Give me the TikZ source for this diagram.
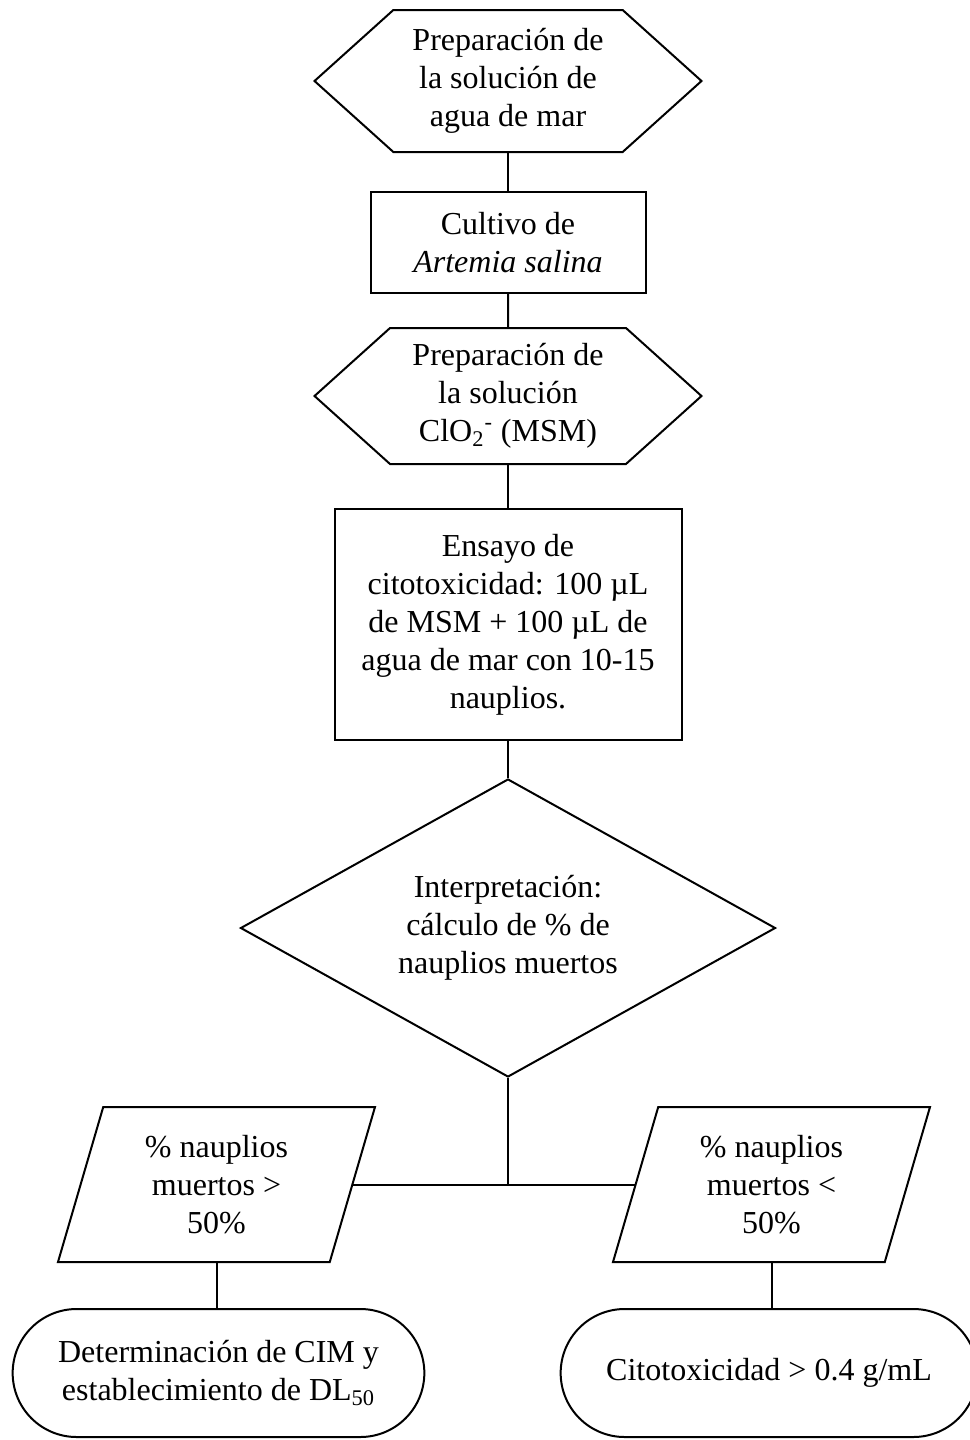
\documentclass[tikz,border=0pt]{standalone}
\usepackage{fontspec}
\setmainfont{Liberation Serif}
\usetikzlibrary{shapes.geometric,shapes.misc,shapes.symbols}

\tikzstyle{base} = [draw, line width=1pt, align=center, font=\fontsize{16}{19}\selectfont]
\tikzstyle{prep} = [base, signal, signal to=west and east, signal pointer angle=84,
     minimum width=193.5pt]
\tikzstyle{block} = [base, rectangle]
\tikzstyle{decision} = [base, diamond, aspect=1.8, minimum width=267.5pt, minimum height=149pt]
\tikzstyle{io} = [base, trapezium, trapezium left angle=68, trapezium right angle=112,
     trapezium stretches body, minimum width=158.5pt, minimum height=77.5pt]
\tikzstyle{terminal} = [base, rounded rectangle, minimum height=64pt]
\tikzstyle{line} = [draw, line width=1pt]

\begin{document}
\begin{tikzpicture}[x=0.5pt,y=-0.5pt]
\useasboundingbox (0,0) rectangle (969,1440);

\node[prep, minimum height=71pt](agua) at (508,81)
  {Preparación de\\la solución de\\agua de mar};
\node[block, minimum width=137.5pt, minimum height=50.5pt](cultivo) at (508,242.5)
  {Cultivo de\\\textit{Artemia salina}};
\node[prep, minimum height=68pt](solucion) at (508,396)
  {Preparación de\\la solución\\ClO\textsubscript{2}\textsuperscript{-} (MSM)};
\node[block, minimum width=173.5pt, minimum height=115.5pt](ensayo) at (508,624.5)
  {Ensayo de\\citotoxicidad: 100 µL\\de MSM + 100 µL de\\agua de mar con 10-15\\nauplios.};
\node[decision](interpretacion) at (508,928)
  {Interpretación:\\cálculo de \% de\\nauplios muertos};

\node[io](mayor) at (216.5,1184.5) {\% nauplios\\muertos >\\50\%};
\node[io](menor) at (771.5,1184.5) {\% nauplios\\muertos <\\50\%};
\coordinate (union) at (508,1184.5);

\node[terminal, minimum width=212.5pt](determinacion) at (218.5,1373)
  {Determinación de CIM y\\establecimiento de DL\textsubscript{50}};
\node[terminal, minimum width=215pt](citotox) at (769,1373)
  {Citotoxicidad > 0.4 g/mL};

\path[line] (agua)--(cultivo);
\path[line] (cultivo)--(solucion);
\path[line] (solucion)--(ensayo);
\path[line] (ensayo)--(interpretacion);
\path[line] (interpretacion.south)--(union);
\path[line] (mayor.east)--(menor.west);
\path[line] (mayor.south)--(mayor.south |- determinacion.north);
\path[line] (menor.south)--(menor.south |- citotox.north);
\end{tikzpicture}
\end{document}
